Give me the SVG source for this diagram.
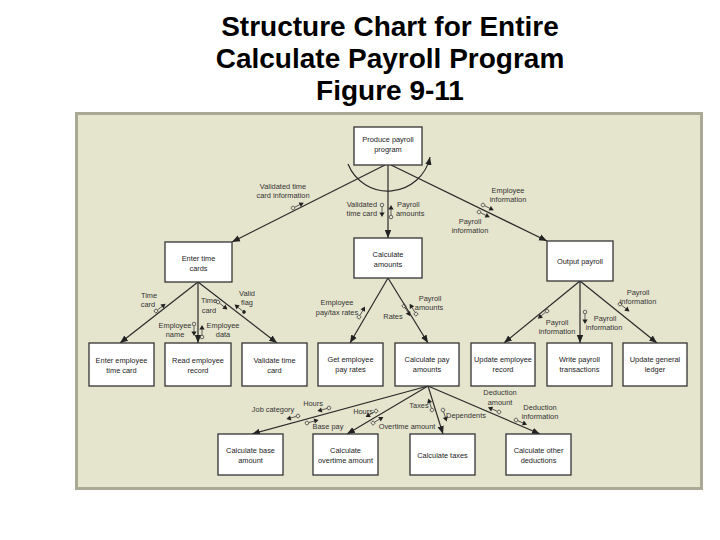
<svg xmlns="http://www.w3.org/2000/svg" xmlns:xlink="http://www.w3.org/1999/xlink" width="720" height="540" viewBox="0 0 720 540">
<style>
.title{font-family:"Liberation Sans",Arial,sans-serif;font-weight:bold;font-size:28px;fill:#000;text-anchor:middle}
.box{fill:#fff;stroke:#333;stroke-width:1.3}
.bt{font-family:"Liberation Sans",Arial,sans-serif;font-size:7.4px;fill:#222;text-anchor:middle}
.lbl{font-family:"Liberation Sans",Arial,sans-serif;font-size:7.4px;fill:#333;text-anchor:middle}
.con{fill:none;stroke:#2a2a2a;stroke-width:1.2;marker-end:url(#arr)}
.cp{fill:none;stroke:#444;stroke-width:0.8}
</style>
<defs>
<marker id="arr" markerUnits="userSpaceOnUse" markerWidth="9" markerHeight="8" refX="8" refY="4" orient="auto">
<path d="M0,0.8 L8,4 L0,7.2 Z" fill="#222"/>
</marker>
<g id="dc">
<circle cx="0" cy="0" r="1.8" fill="none" stroke="#444" stroke-width="0.8"/>
<line x1="1.8" y1="0" x2="8" y2="0" stroke="#444" stroke-width="0.8"/>
<path d="M7.5,-2.6 L12,0 L7.5,2.6 Z" fill="#222"/>
</g>
<g id="cf">
<circle cx="0" cy="0" r="1.8" fill="#222"/>
<line x1="1.8" y1="0" x2="8" y2="0" stroke="#444" stroke-width="0.8"/>
<path d="M7.5,-2.6 L12,0 L7.5,2.6 Z" fill="#222"/>
</g>
</defs>
<rect x="0" y="0" width="720" height="540" fill="#fff"/>
<g id="title">
<text class="title" x="390" y="36">Structure Chart for Entire</text>
<text class="title" x="390" y="68">Calculate Payroll Program</text>
<text class="title" x="390" y="100">Figure 9-11</text>
</g>
<rect id="panel" x="76.5" y="113.5" width="625" height="375" fill="#e5e4cd" stroke="#a9a996" stroke-width="3"/>
<g id="connectors">
<path class="con" d="M385,165 L232,242"/>
<path class="con" d="M388,165 L388,238"/>
<path class="con" d="M391,165 L547,241"/>
<path class="con" d="M348,164 A43,43 0 0 0 430,157"/>
<path class="con" d="M198,282 L120,343"/>
<path class="con" d="M198,282 L198,343"/>
<path class="con" d="M198,282 L277,343"/>
<path class="con" d="M388,278 L350,343"/>
<path class="con" d="M388,278 L428,343"/>
<path class="con" d="M580,281 L504,343"/>
<path class="con" d="M580,281 L580,343"/>
<path class="con" d="M580,281 L657,343"/>
<path class="con" d="M428,386 L252,434"/>
<path class="con" d="M428,386 L347,434"/>
<path class="con" d="M428,386 L443,434"/>
<path class="con" d="M428,386 L540,434"/>
</g>
<g id="couples">
<use xlink:href="#dc" href="#dc" transform="translate(293,208) rotate(-26)"/>
<use xlink:href="#dc" href="#dc" transform="translate(382,205) rotate(90)"/>
<use xlink:href="#dc" href="#dc" transform="translate(391,217) rotate(-90)"/>
<use xlink:href="#dc" href="#dc" transform="translate(483,205) rotate(26)"/>
<use xlink:href="#dc" href="#dc" transform="translate(479,212) rotate(26)"/>
<use xlink:href="#dc" href="#dc" transform="translate(156,311) rotate(-37)"/>
<use xlink:href="#dc" href="#dc" transform="translate(218,302) rotate(38)"/>
<use xlink:href="#cf" href="#cf" transform="translate(244,312) rotate(218)"/>
<use xlink:href="#dc" href="#dc" transform="translate(194,324) rotate(90)"/>
<use xlink:href="#dc" href="#dc" transform="translate(202,337) rotate(-90)"/>
<use xlink:href="#dc" href="#dc" transform="translate(359,317) rotate(-60)"/>
<use xlink:href="#dc" href="#dc" transform="translate(404,306) rotate(58)"/>
<use xlink:href="#dc" href="#dc" transform="translate(416,314) rotate(238)"/>
<use xlink:href="#dc" href="#dc" transform="translate(547,311) rotate(140)"/>
<use xlink:href="#dc" href="#dc" transform="translate(585,312) rotate(90)"/>
<use xlink:href="#dc" href="#dc" transform="translate(620,304) rotate(38)"/>
<use xlink:href="#dc" href="#dc" transform="translate(298,416) rotate(165)"/>
<use xlink:href="#dc" href="#dc" transform="translate(329,408) rotate(165)"/>
<use xlink:href="#dc" href="#dc" transform="translate(307,423) rotate(-15)"/>
<use xlink:href="#dc" href="#dc" transform="translate(376,411) rotate(150)"/>
<use xlink:href="#dc" href="#dc" transform="translate(373,423) rotate(-30)"/>
<use xlink:href="#dc" href="#dc" transform="translate(432,410) rotate(252)"/>
<use xlink:href="#dc" href="#dc" transform="translate(443,410) rotate(72)"/>
<use xlink:href="#dc" href="#dc" transform="translate(499,412) rotate(203)"/>
<use xlink:href="#dc" href="#dc" transform="translate(516,420) rotate(23)"/>
</g>
<g id="labels">
<text class="lbl" x="283" y="189">Validated time</text>
<text class="lbl" x="283" y="198">card information</text>
<text class="lbl" x="377" y="207" style="text-anchor:end">Validated</text>
<text class="lbl" x="377" y="216" style="text-anchor:end">time card</text>
<text class="lbl" x="397" y="207" style="text-anchor:start">Payroll</text>
<text class="lbl" x="396" y="216" style="text-anchor:start">amounts</text>
<text class="lbl" x="508" y="193">Employee</text>
<text class="lbl" x="508" y="202">information</text>
<text class="lbl" x="470" y="224">Payroll</text>
<text class="lbl" x="470" y="233">information</text>
<text class="lbl" x="149" y="298">Time</text>
<text class="lbl" x="148" y="307">card</text>
<text class="lbl" x="209" y="303">Time</text>
<text class="lbl" x="209" y="313">card</text>
<text class="lbl" x="247" y="296">Valid</text>
<text class="lbl" x="247" y="305">flag</text>
<text class="lbl" x="175" y="328">Employee</text>
<text class="lbl" x="175" y="337">name</text>
<text class="lbl" x="223" y="328">Employee</text>
<text class="lbl" x="223" y="337">data</text>
<text class="lbl" x="337" y="305">Employee</text>
<text class="lbl" x="337" y="315">pay/tax rates</text>
<text class="lbl" x="393" y="319">Rates</text>
<text class="lbl" x="430" y="301">Payroll</text>
<text class="lbl" x="429" y="310">amounts</text>
<text class="lbl" x="557" y="325">Payroll</text>
<text class="lbl" x="557" y="334">information</text>
<text class="lbl" x="605" y="321">Payroll</text>
<text class="lbl" x="604" y="330">information</text>
<text class="lbl" x="638" y="295">Payroll</text>
<text class="lbl" x="638" y="304">information</text>
<text class="lbl" x="273" y="412">Job category</text>
<text class="lbl" x="313" y="406">Hours</text>
<text class="lbl" x="328" y="429">Base pay</text>
<text class="lbl" x="363" y="414">Hours</text>
<text class="lbl" x="407" y="429">Overtime amount</text>
<text class="lbl" x="419" y="408">Taxes</text>
<text class="lbl" x="466" y="418">Dependents</text>
<text class="lbl" x="500" y="395">Deduction</text>
<text class="lbl" x="500" y="405">amount</text>
<text class="lbl" x="540" y="410">Deduction</text>
<text class="lbl" x="540" y="419">information</text>
</g>
<g id="n-produce"><rect class="box" x="354" y="127" width="68" height="38"/><text class="bt" x="388" y="142">Produce payroll</text><text class="bt" x="388" y="152">program</text></g>
<g id="n-enter"><rect class="box" x="165" y="242" width="67" height="40"/><text class="bt" x="198.5" y="261">Enter time</text><text class="bt" x="198.5" y="270.5">cards</text></g>
<g id="n-calcamt"><rect class="box" x="354" y="238" width="68" height="40"/><text class="bt" x="388" y="257">Calculate</text><text class="bt" x="388" y="266.5">amounts</text></g>
<g id="n-output"><rect class="box" x="547" y="241" width="66" height="40"/><text class="bt" x="580" y="264">Output payroll</text></g>
<g id="n-enteremp"><rect class="box" x="89" y="343" width="65" height="43"/><text class="bt" x="121.5" y="363">Enter employee</text><text class="bt" x="121.5" y="372.5">time card</text></g>
<g id="n-read"><rect class="box" x="165" y="343" width="66" height="43"/><text class="bt" x="198" y="363">Read employee</text><text class="bt" x="198" y="372.5">record</text></g>
<g id="n-validate"><rect class="box" x="242" y="343" width="65" height="43"/><text class="bt" x="274.5" y="363">Validate time</text><text class="bt" x="274.5" y="372.5">card</text></g>
<g id="n-getpay"><rect class="box" x="318" y="343" width="65" height="43"/><text class="bt" x="350.5" y="362">Get employee</text><text class="bt" x="350.5" y="371.5">pay rates</text></g>
<g id="n-calcpay"><rect class="box" x="395" y="343" width="64" height="43"/><text class="bt" x="427" y="362">Calculate pay</text><text class="bt" x="427" y="371.5">amounts</text></g>
<g id="n-updemp"><rect class="box" x="471" y="343" width="64" height="43"/><text class="bt" x="503" y="362">Update employee</text><text class="bt" x="503" y="371.5">record</text></g>
<g id="n-write"><rect class="box" x="547" y="343" width="65" height="43"/><text class="bt" x="579.5" y="362">Write payroll</text><text class="bt" x="579.5" y="371.5">transactions</text></g>
<g id="n-ledger"><rect class="box" x="623" y="343" width="64" height="43"/><text class="bt" x="655" y="362">Update general</text><text class="bt" x="655" y="371.5">ledger</text></g>
<g id="n-base"><rect class="box" x="218" y="434" width="65" height="41"/><text class="bt" x="250.5" y="453">Calculate base</text><text class="bt" x="250.5" y="462.5">amount</text></g>
<g id="n-overtime"><rect class="box" x="313" y="434" width="65" height="41"/><text class="bt" x="345.5" y="453">Calculate</text><text class="bt" x="345.5" y="462.5">overtime amount</text></g>
<g id="n-taxes"><rect class="box" x="410" y="434" width="65" height="41"/><text class="bt" x="442.5" y="457.5">Calculate taxes</text></g>
<g id="n-other"><rect class="box" x="506" y="434" width="65" height="41"/><text class="bt" x="538.5" y="453">Calculate other</text><text class="bt" x="538.5" y="462.5">deductions</text></g>
</svg>
